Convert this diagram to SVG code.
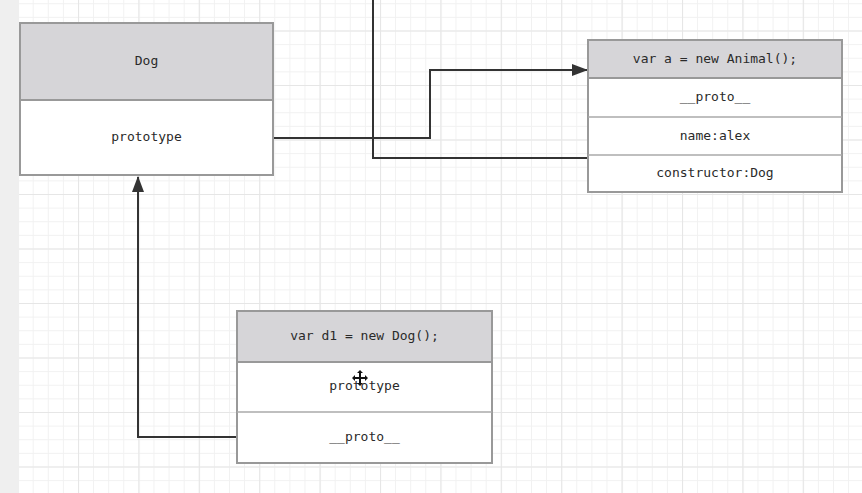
<svg xmlns="http://www.w3.org/2000/svg" width="862" height="493" viewBox="0 0 862 493">
<defs>
<pattern id="minor" x="17.6" y="30.5" width="15.1" height="13.625" patternUnits="userSpaceOnUse">
<path d="M0.5 0V13.625M0 0.5H15.1" fill="none" stroke="#f1f1f1" stroke-width="1"/>
</pattern>
<pattern id="major" x="17.6" y="30.5" width="60.4" height="54.5" patternUnits="userSpaceOnUse">
<path d="M0.5 0V54.5M0 0.5H60.4" fill="none" stroke="#e6e6e6" stroke-width="1.2"/>
</pattern>
<marker id="arr" markerWidth="16" markerHeight="12" refX="15" refY="6" orient="auto" markerUnits="userSpaceOnUse">
<path d="M0 0L16 6L0 12Z" fill="#333"/>
</marker>
<style>
.hd{fill:#d6d5d8;stroke:#999;stroke-width:2}
.bd{fill:#fff;stroke:#999;stroke-width:2}
.sep{stroke:#aaa;stroke-width:1.5}
.t{font-family:"DejaVu Sans Mono","Liberation Mono",monospace;font-size:13px;fill:#2a2a2a;text-anchor:middle;dominant-baseline:central}
.c{fill:none;stroke:#333;stroke-width:2}
</style>
</defs>
<rect x="0" y="0" width="862" height="493" fill="#fff"/>
<rect x="19" y="0" width="843" height="493" fill="url(#minor)"/>
<rect x="19" y="0" width="843" height="493" fill="url(#major)"/>
<rect x="0" y="0" width="19" height="493" fill="#efefef"/>

<g id="connectors">
<path class="c" d="M273 138H430V70H587" marker-end="url(#arr)"/>
<path class="c" d="M373 0V158H588"/>
<path class="c" d="M237 437H138V177" marker-end="url(#arr)"/>
</g>

<g id="dog">
<rect class="bd" x="20" y="23" width="253" height="152"/>
<rect class="hd" x="20" y="23" width="253" height="77"/>
<text class="t" x="146.5" y="60">Dog</text>
<text class="t" x="146.5" y="136">prototype</text>
</g>

<g id="animal">
<rect class="bd" x="588" y="40" width="254" height="152"/>
<rect class="hd" x="588" y="40" width="254" height="38"/>
<line class="sep" x1="588" y1="117" x2="842" y2="117"/>
<line class="sep" x1="588" y1="155" x2="842" y2="155"/>
<text class="t" x="715" y="58">var a = new Animal();</text>
<text class="t" x="715" y="96">__proto__</text>
<text class="t" x="715" y="135">name:alex</text>
<text class="t" x="715" y="172">constructor:Dog</text>
</g>

<g id="d1">
<rect class="bd" x="237" y="311" width="255" height="152"/>
<rect class="hd" x="237" y="311" width="255" height="51"/>
<line class="sep" x1="237" y1="412" x2="492" y2="412"/>
<text class="t" x="364.5" y="335">var d1 = new Dog();</text>
<text class="t" x="364.5" y="385">prototype</text>
<text class="t" x="364.5" y="436">__proto__</text>
</g>

<g id="cursor" fill="#111">
<rect x="359" y="372" width="2" height="12"/>
<rect x="354" y="377" width="12" height="2"/>
<path d="M360 370L357 373H363Z M360 386L357 383H363Z M352 378L355 375V381Z M368 378L365 375V381Z"/>
</g>
</svg>
